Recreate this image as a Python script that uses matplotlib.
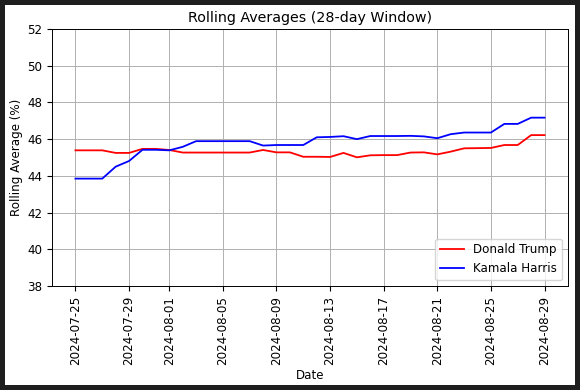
import matplotlib
matplotlib.use("Agg")
import matplotlib.pyplot as plt
import matplotlib.dates as mdates
import pandas as pd

dates = pd.date_range("2024-07-25", "2024-08-29", freq="D")

trump = [45.39, 45.39, 45.39, 45.25, 45.25, 45.47, 45.47, 45.41, 45.27, 45.27,
         45.27, 45.27, 45.27, 45.27, 45.41, 45.28, 45.28, 45.04, 45.04, 45.03,
         45.25, 45.01, 45.12, 45.13, 45.13, 45.27, 45.28, 45.17, 45.32, 45.50,
         45.51, 45.52, 45.68, 45.68, 46.22, 46.22]
harris = [43.85, 43.85, 43.85, 44.50, 44.81, 45.42, 45.42, 45.39, 45.58, 45.89,
          45.89, 45.89, 45.89, 45.89, 45.65, 45.68, 45.68, 45.68, 46.10, 46.12,
          46.16, 46.00, 46.17, 46.17, 46.17, 46.18, 46.15, 46.05, 46.27, 46.36,
          46.36, 46.36, 46.83, 46.83, 47.17, 47.17]

tick_labels = ["2024-07-25", "2024-07-29", "2024-08-01", "2024-08-05", "2024-08-09",
               "2024-08-13", "2024-08-17", "2024-08-21", "2024-08-25", "2024-08-29"]

fs = 8.6
fig = plt.figure(figsize=(5.8, 3.9), dpi=100)
fig.patch.set_facecolor("white")
fig.patch.set_edgecolor("#1e1e1e")
fig.patch.set_linewidth(6)
ax = fig.add_axes([52 / 580, 104 / 390, 516 / 580, 257 / 390])

ax.plot(dates, trump, color="red", linewidth=1.3, label="Donald Trump")
ax.plot(dates, harris, color="blue", linewidth=1.3, label="Kamala Harris")

ax.set_ylim(38, 52)
ax.set_xticks(pd.to_datetime(tick_labels))
ax.xaxis.set_major_formatter(mdates.DateFormatter("%Y-%m-%d"))
ax.tick_params(labelsize=fs)
plt.setp(ax.get_xticklabels(), rotation=90)
ax.grid(True, color="#b0b0b0", linewidth=0.7)
for s in ax.spines.values():
    s.set_linewidth(0.7)
ax.set_title("Rolling Averages (28-day Window)", fontsize=10.3, pad=5)
ax.set_xlabel("Date", fontsize=fs, labelpad=3)
ax.set_ylabel("Rolling Average (%)", fontsize=fs, labelpad=3)
ax.legend(loc="lower right", fontsize=fs)

fig.savefig("out.png", dpi=100, facecolor=fig.get_facecolor(), edgecolor=fig.get_edgecolor())
